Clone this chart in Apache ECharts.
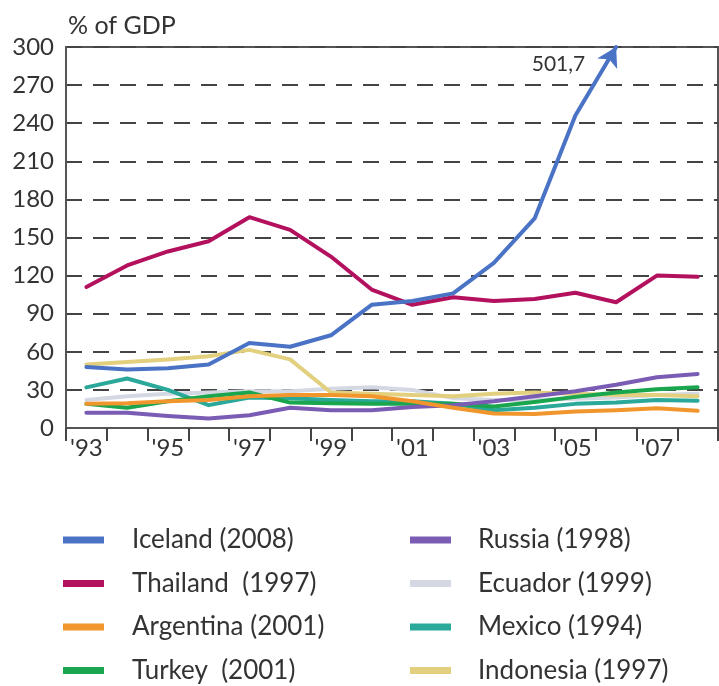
<!DOCTYPE html>
<html>
<head>
<meta charset="utf-8">
<script src="https://cdn.jsdelivr.net/npm/echarts@6/dist/echarts.min.js"></script>
<style>
html,body{margin:0;padding:0;background:#fff;}
#chart{width:719px;height:686px;}
</style>
</head>
<body>
<div id="chart"></div>
<script>
var years = ["'93","'94","'95","'96","'97","'98","'99","'00","'01","'02","'03","'04","'05","'06","'07","'08"];
var yTicks = [0, 30, 60, 90, 120, 150, 180, 210, 240, 270, 300];
var iceland   = [48, 46, 47, 50, 67, 64, 73, 97, 100, 106, 130, 165, 246, 300, null, null];
var icelandPeakLabel = '501,7';
var thailand  = [111, 128, 139, 147, 166, 156, 135, 109, 97, 103, 100, 101.5, 106.5, 99, 120, 119];
var argentina = [19, 19.5, 21, 22, 25, 26, 26, 25, 21, 16, 11.5, 11, 13, 14, 15.5, 13.5];
var turkey    = [19, 16, 21, 25, 28, 20, 19.5, 19, 19, 19, 17, 20.5, 24.5, 28, 30.5, 32];
var russia    = [12, 12, 9.5, 7.5, 10, 16, 14, 14, 16.5, 18, 21, 25, 29, 34, 40, 42.5];
var ecuador   = [22, 25, 27, 28, 29, 29, 31, 32, 30, 23.5, 22, 22, 23, 24, 26, 27];
var mexico    = [32, 39, 30, 18, 24, 23.5, 22, 21, 21, 19, 14, 16, 19, 20, 22, 21.5];
var indonesia = [50, 52, 54, 56.5, 61.5, 54, 28, 27, 26, 25, 27, 28, 27, 26, 26, 25];

var names = {
  iceland: 'Iceland (2008)', thailand: 'Thailand  (1997)', argentina: 'Argentina (2001)', turkey: 'Turkey  (2001)',
  russia: 'Russia (1998)', ecuador: 'Ecuador (1999)', mexico: 'Mexico (1994)', indonesia: 'Indonesia (1997)'
};
var colors = {
  iceland: '#4a73c6', thailand: '#b3115e', argentina: '#f0962c', turkey: '#19a64f',
  russia: '#7a5cb4', ecuador: '#d4d8e2', mexico: '#2aa899', indonesia: '#e3d07f'
};
var FONT = 'Lato';

function mk(key, data, z) {
  return {
    name: names[key], type: 'line', data: data, z: z,
    symbol: 'none', showSymbol: true, smooth: false,
    lineStyle: { width: 4, color: colors[key], cap: 'round', join: 'round' },
    itemStyle: { color: colors[key] },
    emphasis: { disabled: true }
  };
}

var icelandData = iceland.map(function (v, i) {
  if (i === 13) {
    return {
      value: v, symbol: 'arrow', symbolSize: [17, 19], symbolRotate: -28,
      label: { show: true, formatter: icelandPeakLabel, position: 'left', offset: [-7, 9],
        color: '#333', fontSize: 21, fontFamily: FONT }
    };
  }
  return v;
});

var series = [
  mk('ecuador', ecuador, 2),
  mk('indonesia', indonesia, 3),
  mk('mexico', mexico, 4),
  mk('turkey', turkey, 5),
  mk('russia', russia, 6),
  mk('argentina', argentina, 7),
  mk('thailand', thailand, 8),
  mk('iceland', icelandData, 9)
];
series[series.length - 1].clip = false;

var legendBase = {
  orient: 'vertical', icon: 'rect', itemWidth: 41, itemHeight: 7, itemGap: 17.5,
  selectedMode: false, padding: 0, height: 170,
  textStyle: { fontFamily: FONT, fontSize: 26, color: '#333', lineHeight: 24 }
};

var chart = echarts.init(document.getElementById('chart'), null, { renderer: 'canvas' });
chart.setOption({
  animation: false,
  backgroundColor: '#fff',
  title: {
    text: '% of GDP', left: 63, top: 8,
    textStyle: { fontFamily: FONT, fontSize: 25, fontWeight: 'normal', color: '#333' }
  },
  legend: [
    Object.assign({}, legendBase, {
      left: 63, top: 527,
      data: [names.iceland, names.thailand, names.argentina, names.turkey],
      textStyle: Object.assign({}, legendBase.textStyle, { padding: [0, 0, 0, 23] })
    }),
    Object.assign({}, legendBase, {
      left: 410, top: 527,
      data: [names.russia, names.ecuador, names.mexico, names.indonesia],
      textStyle: Object.assign({}, legendBase.textStyle, { padding: [0, 0, 0, 22] })
    })
  ],
  grid: {
    left: 66, top: 47, width: 652, height: 381,
    show: true, borderColor: '#555', borderWidth: 2, backgroundColor: 'transparent'
  },
  xAxis: {
    type: 'category', data: years, boundaryGap: true,
    axisLine: { lineStyle: { color: '#555', width: 2 } },
    axisTick: { show: true, interval: 0, length: 13, lineStyle: { color: '#444', width: 2 } },
    axisLabel: { interval: 1, fontFamily: FONT, fontSize: 24, color: '#333', margin: 8 },
    splitLine: { show: false }
  },
  yAxis: {
    type: 'value', min: yTicks[0], max: yTicks[yTicks.length - 1], interval: 30,
    axisLine: { show: true, lineStyle: { color: '#555', width: 2 } },
    axisTick: { show: false },
    axisLabel: { fontFamily: FONT, fontSize: 24, color: '#333', margin: 12 },
    splitLine: { show: true, lineStyle: { color: '#444', width: 2, type: [16, 11] } }
  },
  series: series
});
</script>
</body>
</html>
